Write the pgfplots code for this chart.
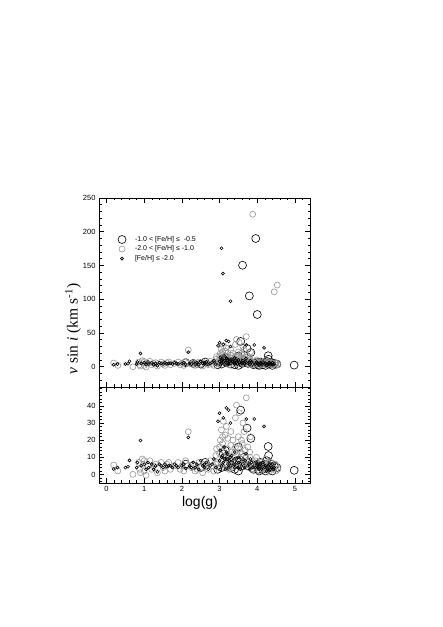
\documentclass[border=0pt]{standalone}
\usepackage{fontspec}
\setmainfont{Liberation Sans}
\newfontfamily\timesf{Liberation Serif}
\usepackage{pgfplots}
\usepackage{pgfplotstable}
\pgfplotsset{compat=1.18}
\definecolor{mgray}{RGB}{150,150,150}
\DeclareRobustCommand\feh{\mbox{[Fe/H]}}

% -1.0 < [Fe/H] <= -0.5
\pgfplotstableread{
x y
2.10 6
2.30 5
2.50 4
2.62 7
2.95 3
3.05 4
3.10 12
3.15 14
3.18 6
3.25 9
3.30 4
3.40 3
3.45 8
3.50 2
3.50 16
3.56 37.5
3.60 5
3.61 150.4
3.65 10
3.73 27
3.75 5
3.79 105
3.83 21
3.85 6
3.90 3
3.96 190
4.00 77.4
4.00 6
4.02 3
4.05 2
4.08 7
4.10 5
4.15 3
4.20 6
4.22 2
4.25 8
4.29 16.3
4.30 11
4.32 5
4.35 4
4.38 6
4.40 2
4.45 5
4.52 4
4.98 2.4
}\bigtab

% -2.0 < [Fe/H] <= -1.0
\pgfplotstableread{
x y
0.19 5.5
0.30 2
0.70 0
0.85 7
0.88 3
0.90 1
0.95 9
0.98 6
1.00 2
1.00 8
1.05 -0.5
1.10 5
1.15 8
1.20 3
1.25 5
1.30 6
1.35 1
1.45 7
1.50 4
1.55 2
1.60 6
1.65 7
1.70 3
1.80 5
1.90 7
1.95 3
2.00 5
2.05 2
2.10 8
2.15 5
2.17 24.9
2.25 4
2.30 6
2.35 2
2.40 3
2.45 7
2.50 4
2.55 1
2.60 6
2.65 5
2.70 3
2.75 8
2.80 5
2.85 2
2.90 6
2.90 11
2.92 15
2.95 7
3.00 4
3.00 12
3.00 16
3.02 20
3.05 8
3.05 26
3.08 18
3.08 22
3.10 14
3.10 31
3.12 10
3.15 23
3.15 6
3.18 28
3.20 4
3.20 15
3.22 21
3.25 3
3.25 11
3.28 9
3.30 17
3.30 25
3.32 13
3.35 8
3.35 20
3.38 5
3.40 13
3.42 16
3.42 33
3.45 40.4
3.45 5
3.48 11
3.50 15
3.50 22
3.52 36
3.55 9
3.55 13
3.58 20
3.60 12
3.60 18
3.62 30
3.65 6
3.65 25
3.68 14
3.70 10
3.71 44.7
3.72 8
3.75 7
3.75 16
3.78 4
3.80 10
3.80 13
3.82 22
3.85 3
3.85 6
3.88 226
3.90 3
3.92 5
3.95 8
3.98 10
4.00 5
4.05 2
4.05 6
4.10 7
4.12 3
4.15 4
4.18 5
4.20 6
4.22 9
4.25 3
4.28 7
4.30 5
4.32 2
4.35 7
4.38 5
4.40 4
4.42 3
4.45 111
4.48 6
4.50 2
4.50 5
4.53 121
4.55 3
}\graytab

% [Fe/H] <= -2.0
\pgfplotstableread{
x y
0.19 3.1
0.29 4
0.50 4
0.57 4.5
0.61 8.2
0.80 4
0.82 7
0.90 19.8
0.92 5
1.00 6
1.05 3
1.10 7
1.12 4
1.20 6
1.25 3
1.30 5
1.35 1.5
1.40 6
1.45 5
1.50 4
1.55 6
1.60 4.5
1.65 5
1.70 5
1.75 4
1.80 6
1.85 5
1.90 4
2.00 5
2.05 6
2.10 3.5
2.17 21.6
2.20 5
2.25 4
2.30 7
2.35 4
2.40 6
2.45 3
2.50 8
2.55 5
2.60 4
2.60 6
2.65 7
2.70 3
2.75 5
2.80 6
2.85 9
2.90 4
2.96 31
3.00 35.7
3.00 8
3.02 3
3.02 14
3.05 175.6
3.05 5
3.06 10
3.08 11
3.09 138
3.10 33
3.10 7
3.12 16
3.14 9
3.15 3
3.18 13
3.18 38.8
3.20 9
3.20 12
3.22 6
3.24 4
3.24 37.5
3.26 8
3.28 10
3.29 30
3.29 97
3.30 5
3.32 11
3.35 8
3.38 6
3.40 13
3.40 4
3.44 9
3.45 7
3.48 4
3.50 10
3.52 7
3.55 3
3.58 5
3.60 6
3.62 9
3.66 4
3.68 8
3.70 12
3.71 32.3
3.75 5
3.78 6
3.80 3
3.82 9
3.85 7
3.88 4
3.92 32.3
3.95 4
3.98 7
4.00 6
4.02 4
4.05 3
4.08 6
4.10 5
4.12 3
4.15 7
4.18 28
4.20 4
4.22 5
4.25 2
4.28 3
4.30 5
4.32 6
4.35 3
4.38 4
4.40 6
4.42 3
4.45 4
}\smalltab

\pgfplotsset{
  vpanel/.style={
    scale only axis, width=211pt,
    xmin=-0.2, xmax=5.4,
    xtick={0,...,5},
    minor xtick={-0.2,0,0.2,0.4,0.6,0.8,1,1.2,1.4,1.6,1.8,2,2.2,2.4,2.6,2.8,3,3.2,3.4,3.6,3.8,4,4.2,4.4,4.6,4.8,5,5.2,5.4},
    tick align=inside,
    major tick length=5pt, minor tick length=2.5pt,
    tick style={black, line width=0.5pt},
    axis line style={line width=0.5pt},
    tick label style={font=\fontsize{7.5}{8}\selectfont},
    /pgf/number format/assume math mode=true,
  },
  bigm/.style={only marks, mark=o, black, mark size=4pt, mark options={line width=0.6pt}},
  graym/.style={only marks, mark=o, mgray, mark size=3pt, mark options={line width=0.6pt}},
  smallm/.style={only marks, mark=o, black, mark size=1.5pt, mark options={line width=0.6pt}},
}

\begin{document}
\begin{tikzpicture}[x=1pt,y=1pt]
\path[use as bounding box] (0,0) rectangle (443,627);

\begin{axis}[vpanel,
  at={(99pt,240pt)}, anchor=south west,
  height=189pt,
  ymin=-30, ymax=250,
  ytick={0,50,...,250},
  minor ytick={-20,-10,...,250},
  xticklabels={},
  legend cell align=left,
  legend style={at={(0.075,0.82)}, anchor=north west, draw=none, fill=none,
    font=\fontsize{7}{8}\selectfont, row sep=-1pt, column sep=7pt},
]
\addlegendimage{bigm}
\addlegendimage{graym}
\addlegendimage{smallm}
\addplot[bigm, forget plot] table {\bigtab};
\addplot[graym, forget plot] table {\graytab};
\addplot[smallm, forget plot] table {\smalltab};
\legend{{-1.0 < \feh{} ≤ \ -0.5}, {-2.0 < \feh{} ≤ -1.0}, {\feh{} ≤ -2.0}}
\end{axis}

\begin{axis}[vpanel,
  at={(99pt,144pt)}, anchor=south west,
  height=96pt,
  ymin=-5, ymax=51,
  ytick={0,10,...,40},
  minor ytick={-4,-2,...,50},
]
\addplot[bigm] table {\bigtab};
\addplot[graym] table {\graytab};
\addplot[smallm] table {\smalltab};
\end{axis}

\node[rotate=90, font=\timesf\fontsize{15.5}{17}\selectfont] at (73,298)
  {\textit{v} sin \textit{i} (km s\textsuperscript{-1})};
\node[font=\fontsize{14}{15}\selectfont] at (200,124) {log(g)};
\end{tikzpicture}
\end{document}
